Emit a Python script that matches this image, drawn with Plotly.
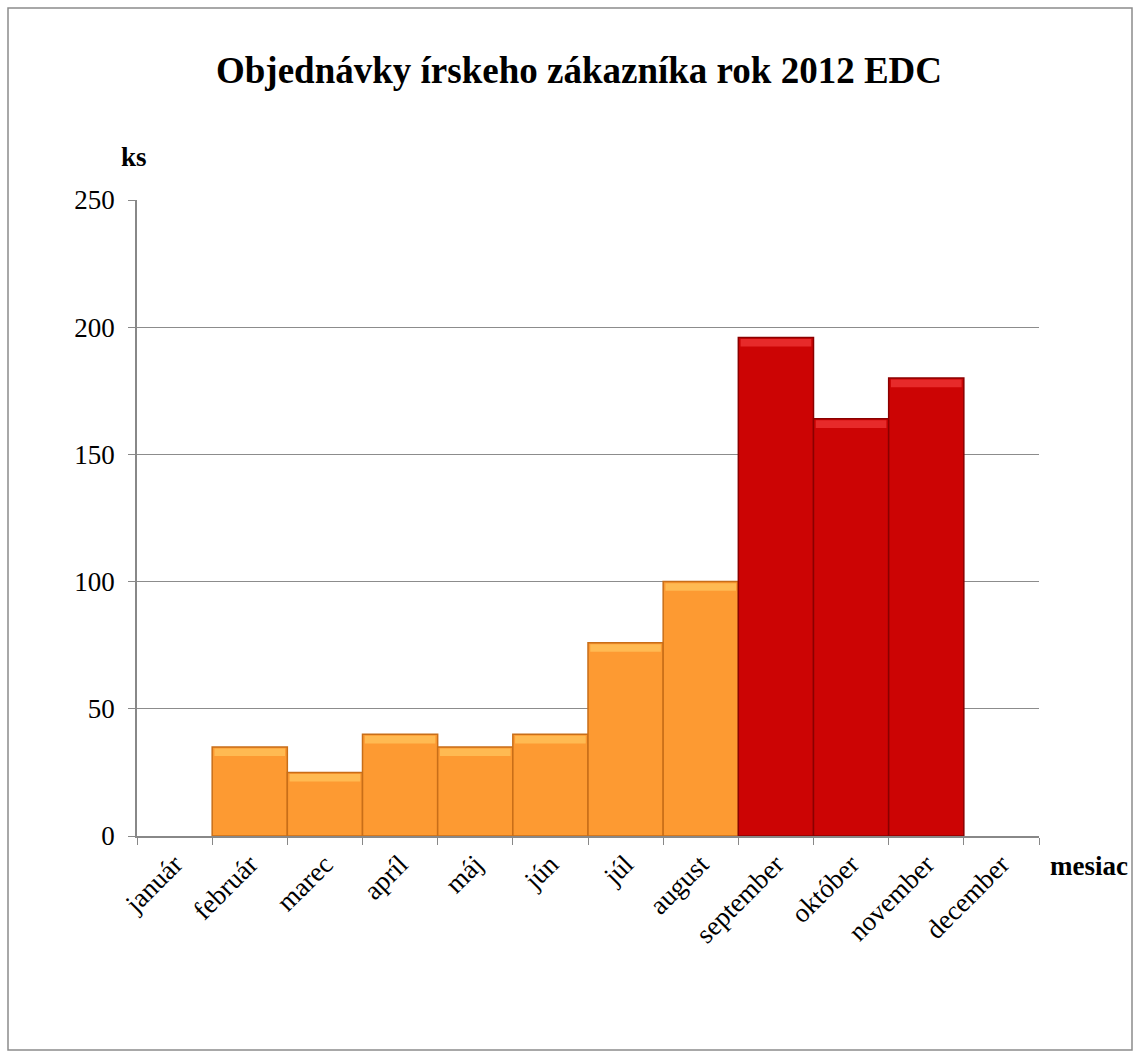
import plotly.graph_objects as go

months = ["január", "február", "marec", "apríl", "máj", "jún", "júl",
          "august", "september", "október", "november", "december"]
values = [None, 35, 25, 40, 35, 40, 76, 100, 196, 164, 180, None]
y_ticks = [0, 50, 100, 150, 200, 250]

ORANGE = "#FD9A32"
ORANGE_EDGE = "#C86E18"
ORANGE_HI = "#FFC25A"
RED = "#CC0404"
RED_EDGE = "#8A0000"
RED_HI = "#EE3434"

is_red = [i >= 8 for i in range(len(months))]
fill = [RED if r else ORANGE for r in is_red]
edge = [RED_EDGE if r else ORANGE_EDGE for r in is_red]
hi = [RED_HI if r else ORANGE_HI for r in is_red]

fig = go.Figure()
fig.add_trace(go.Bar(
    x=months, y=values, width=1,
    marker=dict(color=fill, line=dict(color=edge, width=1.5)),
    hoverinfo="skip", showlegend=False,
))
# bevel highlight strip at the top of each bar
hi_h = 3
fig.add_trace(go.Bar(
    x=months, y=[hi_h if v else None for v in values],
    base=[(v - hi_h - 0.6) if v else None for v in values],
    width=0.94,
    marker=dict(color=hi, line=dict(width=0), opacity=0.8),
    hoverinfo="skip", showlegend=False,
))

font = "Liberation Serif, Times New Roman, serif"
fig.update_layout(
    width=1141, height=1059,
    margin=dict(l=137, r=102, t=200, b=223),
    paper_bgcolor="white", plot_bgcolor="white",
    barmode="overlay",
    font=dict(family=font, color="black", size=27),
    title=dict(text="<b>Objednávky írskeho zákazníka rok 2012 EDC</b>",
               x=579 / 1141, xref="container", xanchor="center",
               y=1 - 70 / 1059, yref="container", yanchor="middle",
               font=dict(family=font, size=37, color="black")),
    xaxis=dict(type="category", categoryorder="array", categoryarray=months,
               range=[-0.5, 11.5], tickson="boundaries",
               tickangle=-45, ticks="outside", ticklen=7, tickcolor="#888888",
               showline=True, linecolor="#888888", linewidth=1.5,
               showgrid=False, zeroline=False,
               tickfont=dict(family=font, size=27)),
    yaxis=dict(range=[0, 250], tickvals=y_ticks, ticks="outside", ticklen=7,
               tickcolor="#888888", showline=True, linecolor="#888888",
               linewidth=1.5, showgrid=True, gridcolor="#8C8C8C", gridwidth=1,
               zeroline=False, ticklabelstandoff=8,
               tickfont=dict(family=font, size=27)),
    shapes=[dict(type="rect", xref="paper", yref="paper",
                 x0=(8 - 137) / 902, x1=(1132 - 137) / 902,
                 y0=(836 - 1050) / 636, y1=(836 - 8) / 636,
                 line=dict(color="#8C8C8C", width=1.5), layer="below")],
    annotations=[
        dict(text="<b>ks</b>", xref="paper", yref="paper",
             x=(134 - 137) / 902, y=(836 - 157) / 636,
             xanchor="center", yanchor="middle", showarrow=False,
             font=dict(family=font, size=27)),
        dict(text="<b>mesiac</b>", xref="paper", yref="paper",
             x=(1089 - 137) / 902, y=(836 - 866) / 636,
             xanchor="center", yanchor="middle", showarrow=False,
             font=dict(family=font, size=27)),
    ],
)

fig.write_html("out.html")
